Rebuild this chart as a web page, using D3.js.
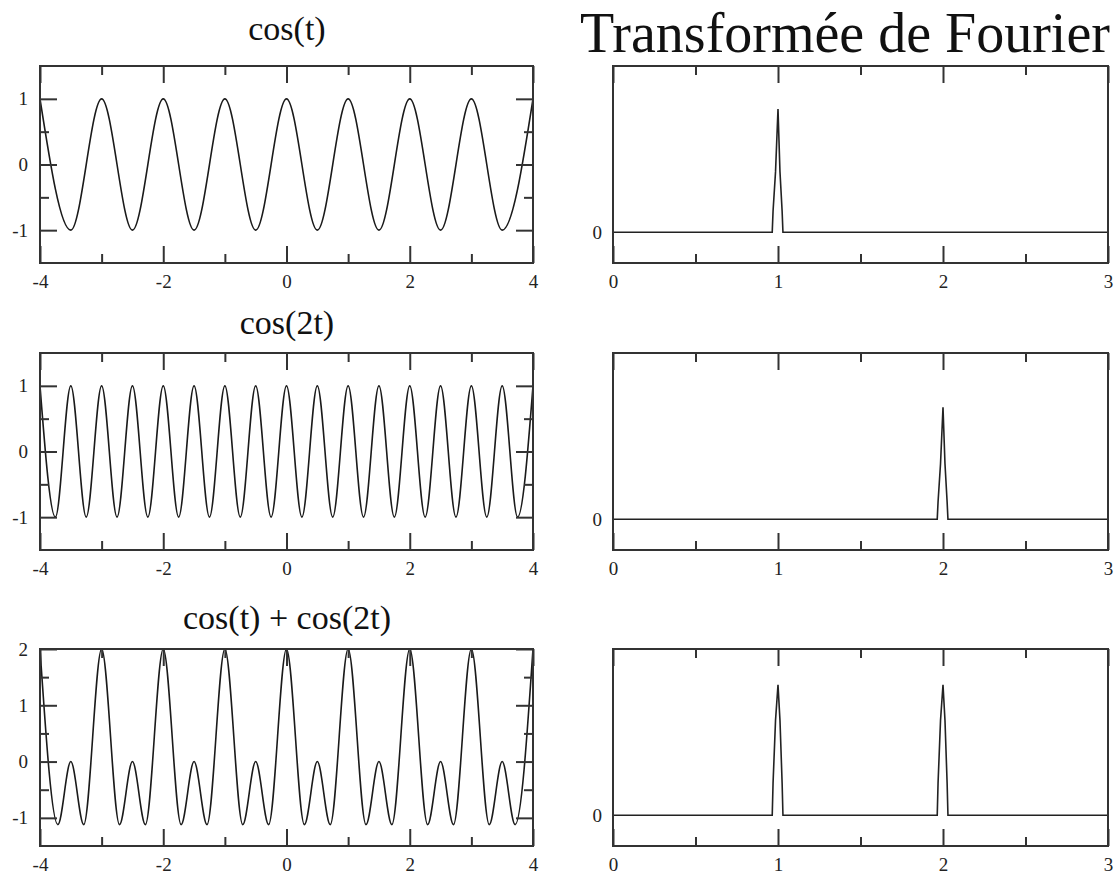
<!DOCTYPE html>
<html>
<head>
<meta charset="utf-8">
<title>cos(t) et transformée de Fourier</title>
<script src="https://d3js.org/d3.v7.min.js"></script>
<style>
  body { margin: 0; background: #fff; overflow: hidden; }
  svg { font-family: "Liberation Serif", "DejaVu Serif", serif; }
  .frame { fill: none; stroke: #333; stroke-width: 2; }
  .axis path { display: none; }
  .axis line { stroke: #333; stroke-width: 2; }
  .curve { fill: none; stroke: #1a1a1a; stroke-width: 1.6; }
  .spec { fill: none; stroke: #222; stroke-width: 1.6; }
</style>
</head>
<body>
<script>
// time samples read at the extrema of each signal
var tCos = [-4,-3.5,-3,-2.5,-2,-1.5,-1,-0.5,0,0.5,1,1.5,2,2.5,3,3.5,4];
var yCos = [1,-1,1,-1,1,-1,1,-1,1,-1,1,-1,1,-1,1,-1,1];

var tCos2 = [-4,-3.75,-3.5,-3.25,-3,-2.75,-2.5,-2.25,-2,-1.75,-1.5,-1.25,-1,-0.75,-0.5,-0.25,
             0,0.25,0.5,0.75,1,1.25,1.5,1.75,2,2.25,2.5,2.75,3,3.25,3.5,3.75,4];
var yCos2 = [1,-1,1,-1,1,-1,1,-1,1,-1,1,-1,1,-1,1,-1,
             1,-1,1,-1,1,-1,1,-1,1,-1,1,-1,1,-1,1,-1,1];

var tSum = [-4,-3.71,-3.5,-3.29,-3,-2.71,-2.5,-2.29,-2,-1.71,-1.5,-1.29,-1,-0.71,-0.5,-0.29,
            0,0.29,0.5,0.71,1,1.29,1.5,1.71,2,2.29,2.5,2.71,3,3.29,3.5,3.71,4];
var ySum = [2,-1.12,0,-1.12,2,-1.12,0,-1.12,2,-1.12,0,-1.12,2,-1.12,0,-1.12,
            2,-1.12,0,-1.12,2,-1.12,0,-1.12,2,-1.12,0,-1.12,2,-1.12,0,-1.12,2];

// spectra (frequency, amplitude)
var f1 = [0,0.965,0.97,0.985,1.0,1.012,1.025,1.03,3];
var a1 = [0,0,0.17,0.49,1.0,0.49,0.17,0,0];

var f2 = [0,1.965,1.97,1.985,2.0,2.012,2.025,2.03,3];
var a2 = [0,0,0.14,0.45,0.91,0.45,0.14,0,0];

var f3 = [0,0.965,0.97,0.985,1.0,1.012,1.025,1.03,1.965,1.97,1.985,2.0,2.012,2.025,2.03,3];
var a3 = [0,0,0.26,0.77,1.06,0.77,0.26,0,0,0.26,0.77,1.06,0.77,0.26,0,0];

var titles = ["cos(t)", "cos(2t)", "cos(t) + cos(2t)"];
var tMajor = [-4,-2,0,2,4], tMinor = [-3,-1,1,3];
var fMajor = [0,1,2,3], fMinor = [0.5,1.5,2.5];

var svg = d3.select("body").append("svg")
  .attr("width", 1116).attr("height", 874);

var rows = [
  {top: 66, bottom: 263, yDom: [-1.5, 1.5], yMajor: [-1,0,1], yMinor: [-0.5,0.5], t: tCos, y: yCos, f: f1, a: a1, titleY: 40},
  {top: 353, bottom: 550, yDom: [-1.5, 1.5], yMajor: [-1,0,1], yMinor: [-0.5,0.5], t: tCos2, y: yCos2, f: f2, a: a2, titleY: 334},
  {top: 649, bottom: 846, yDom: [-1.5, 2], yMajor: [-1,0,1,2], yMinor: [-0.5,0.5,1.5], t: tSum, y: ySum, f: f3, a: a3, titleY: 629}
];

var fmt = function(d) { return String(d); };

// d3 axis puts sans-serif on the group, force the serif labels
function styleLabels(sel) {
  sel.attr("font-family", "Liberation Serif, serif").attr("font-size", 19);
  sel.selectAll("text")
    .style("font-family", "'Liberation Serif', serif")
    .style("font-size", "19px")
    .attr("fill", "#222");
}

function frameAxes(g, x, y, xMajor, xMinor, yMajor, yMinor, yLabels) {
  var h = y.range()[0], w = x.range()[1];
  g.append("g").attr("class", "axis").attr("transform", "translate(0," + h + ")")
    .call(d3.axisBottom(x).tickValues(xMajor).tickSize(-17).tickPadding(12).tickFormat(fmt))
    .call(styleLabels);
  g.append("g").attr("class", "axis").attr("transform", "translate(0," + h + ")")
    .call(d3.axisBottom(x).tickValues(xMinor).tickSize(-9).tickFormat(""));
  g.append("g").attr("class", "axis")
    .call(d3.axisTop(x).tickValues(xMajor).tickSize(-17).tickFormat(""));
  g.append("g").attr("class", "axis")
    .call(d3.axisTop(x).tickValues(xMinor).tickSize(-9).tickFormat(""));
  if (yMajor) {
    g.append("g").attr("class", "axis")
      .call(d3.axisLeft(y).tickValues(yMajor).tickSize(-17).tickPadding(12).tickFormat(fmt))
      .call(styleLabels);
    g.append("g").attr("class", "axis")
      .call(d3.axisLeft(y).tickValues(yMinor).tickSize(-9).tickFormat(""));
    g.append("g").attr("class", "axis").attr("transform", "translate(" + w + ",0)")
      .call(d3.axisRight(y).tickValues(yMajor).tickSize(-17).tickFormat(""));
    g.append("g").attr("class", "axis").attr("transform", "translate(" + w + ",0)")
      .call(d3.axisRight(y).tickValues(yMinor).tickSize(-9).tickFormat(""));
  } else {
    // only the zero label on spectra
    g.append("g").attr("class", "axis")
      .call(d3.axisLeft(y).tickValues(yLabels).tickSize(0).tickPadding(11).tickFormat(fmt))
      .call(styleLabels);
  }
  g.append("rect").attr("class", "frame").attr("width", w).attr("height", h);
}

rows.forEach(function(r, i) {
  var h = r.bottom - r.top;

  // time signal
  var gl = svg.append("g").attr("transform", "translate(40," + r.top + ")");
  var x = d3.scaleLinear().domain([-4, 4]).range([0, 493]);
  var y = d3.scaleLinear().domain(r.yDom).range([h, 0]);
  var pts = r.t.map(function(d, k) { return [d, r.y[k]]; });
  gl.append("path").attr("class", "curve")
    .attr("d", d3.line().x(function(d) { return x(d[0]); }).y(function(d) { return y(d[1]); })
      .curve(d3.curveMonotoneX)(pts));
  frameAxes(gl, x, y, tMajor, tMinor, r.yMajor, r.yMinor);

  svg.append("text").attr("x", 287).attr("y", r.titleY)
    .attr("text-anchor", "middle").style("font-size", "34px").attr("fill", "#111")
    .text(titles[i]);

  // spectrum
  var gr = svg.append("g").attr("transform", "translate(613," + r.top + ")");
  var xf = d3.scaleLinear().domain([0, 3]).range([0, 495]);
  var yf = d3.scaleLinear().domain([-0.25, 1.35]).range([h, 0]);
  var sp = r.f.map(function(d, k) { return [d, r.a[k]]; });
  gr.append("path").attr("class", "spec")
    .attr("d", d3.line().x(function(d) { return xf(d[0]); }).y(function(d) { return yf(d[1]); })(sp));
  frameAxes(gr, xf, yf, fMajor, fMinor, null, null, [0]);
});

svg.append("text").attr("x", 845).attr("y", 52)
  .attr("text-anchor", "middle").style("font-size", "56px").attr("fill", "#111")
  .text("Transformée de Fourier");
</script>
</body>
</html>
